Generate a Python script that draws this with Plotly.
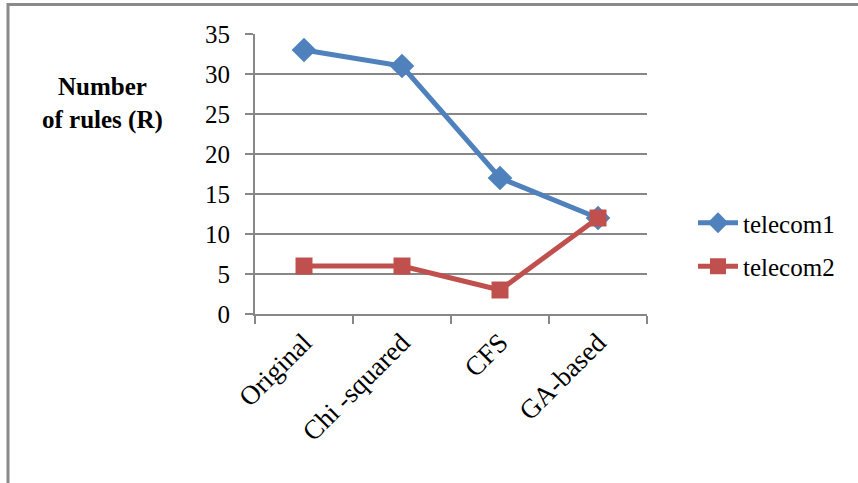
import plotly.graph_objects as go

# Rule counts per feature-selection method
methods = ["Original", "Chi -squared", "CFS", "GA-based"]
telecom1 = [33, 31, 17, 12]
telecom2 = [6, 6, 3, 12]
y_ticks = [0, 5, 10, 15, 20, 25, 30, 35]

BLUE = "#4F81BD"
RED = "#C0504D"
GRID = "#878787"
FONT = "Liberation Serif"

fig = go.Figure()
fig.add_trace(go.Scatter(
    x=methods, y=telecom1, name="telecom1", mode="lines+markers",
    legendgroup="a",
    line=dict(color=BLUE, width=5),
    marker=dict(symbol="diamond", size=19, color=BLUE),
))
fig.add_trace(go.Scatter(
    x=methods, y=telecom2, name="telecom2", mode="lines+markers",
    legendgroup="b",
    line=dict(color=RED, width=5),
    marker=dict(symbol="square", size=17, color=RED),
))

W, H = 858, 483
L, R, T, B = 255, 211, 34, 169
pw, ph = W - L - R, H - T - B


def px_x(p):
    return (p - L) / pw


def px_y(p):
    return (H - B - p) / ph


fig.update_layout(
    width=W, height=H,
    margin=dict(l=L, r=R, t=T, b=B, pad=0),
    paper_bgcolor="white", plot_bgcolor="white",
    font=dict(family=FONT, size=25, color="black"),
    showlegend=True,
    legend=dict(
        x=px_x(693), y=px_y(200), xanchor="left", yanchor="top",
        font=dict(family=FONT, size=25, color="black"),
        bgcolor="rgba(0,0,0,0)", itemwidth=40, tracegroupgap=8,
    ),
    xaxis=dict(
        type="category", range=[-0.5, 3.5],
        showgrid=False, showline=True, linecolor=GRID, linewidth=2,
        ticks="outside", tickson="boundaries", ticklen=8, tickwidth=2, tickcolor=GRID,
        tickangle=-45, tickfont=dict(family=FONT, size=27, color="black"),
        zeroline=False, fixedrange=True,
    ),
    yaxis=dict(
        range=[0, 35], tickvals=y_ticks,
        showgrid=True, gridcolor=GRID, gridwidth=2,
        showline=True, linecolor=GRID, linewidth=2,
        ticks="outside", ticklen=8, tickwidth=2, tickcolor=GRID,
        ticklabelstandoff=10,
        tickfont=dict(family=FONT, size=25, color="black"),
        zeroline=False, fixedrange=True,
    ),
)

# Axis title placed beside the value axis
fig.add_annotation(
    xref="paper", yref="paper", x=px_x(102), y=px_y(103),
    text="<b>Number<br>of rules (R)</b>", showarrow=False,
    font=dict(family=FONT, size=25, color="black"),
    align="center", xanchor="center", yanchor="middle",
)

# Chart-area frame (top and left edges)
frame = dict(color="#8A8A8A", width=3)
fig.add_shape(type="line", xref="paper", yref="paper",
              x0=px_x(8), x1=px_x(W + 5), y0=px_y(4.5), y1=px_y(4.5), line=frame)
fig.add_shape(type="line", xref="paper", yref="paper",
              x0=px_x(8), x1=px_x(8), y0=px_y(3), y1=px_y(H + 5), line=frame)

fig.write_html("out.html")
